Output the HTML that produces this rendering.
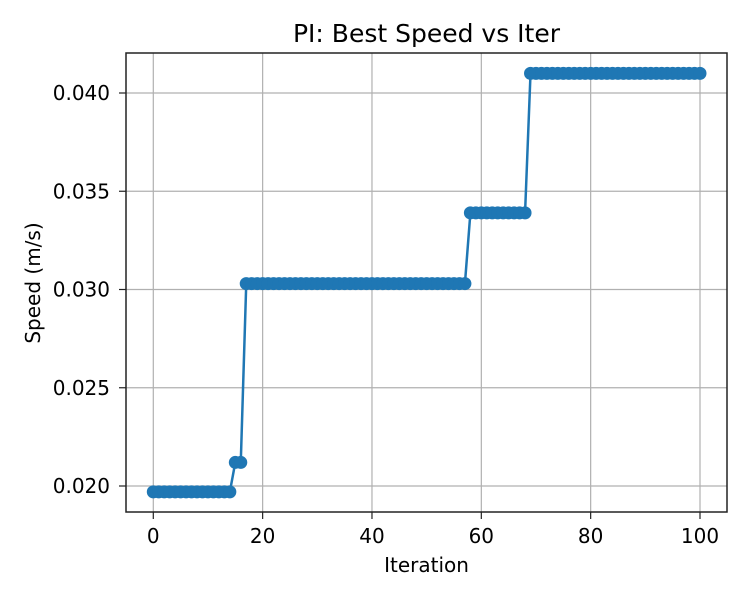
<!DOCTYPE html>
<html><head><meta charset="utf-8">
<style>
html,body{margin:0;padding:0;background:#fff;}
svg{display:block;font-family:"DejaVu Sans","Liberation Sans",sans-serif;}
</style></head>
<body>
<svg id="chart" width="750" height="600" viewBox="0 0 750 600">
  <text x="426.5" y="42" font-size="25" text-anchor="middle" fill="#000">PI: Best Speed vs Iter</text>
  <g id="grid"></g>
  <g id="series"></g>
  <rect x="126" y="53" width="601" height="459" fill="none" stroke="#222" stroke-width="1.5"/>
  <g id="xticks"></g>
  <g id="yticks"></g>
  <text x="426.5" y="572" font-size="20" text-anchor="middle">Iteration</text>
  <text x="0" y="0" font-size="20" text-anchor="middle" transform="translate(40,283) rotate(-90)">Speed (m/s)</text>
</svg>
<script>
const xTicks = [0, 20, 40, 60, 80, 100];
const yTicks = [0.020, 0.025, 0.030, 0.035, 0.040];
const yTickLabels = ["0.020", "0.025", "0.030", "0.035", "0.040"];
const speeds = [
0.0197,0.0197,0.0197,0.0197,0.0197,0.0197,0.0197,0.0197,0.0197,0.0197,
0.0197,0.0197,0.0197,0.0197,0.0197,0.0212,0.0212,0.0303,0.0303,0.0303,
0.0303,0.0303,0.0303,0.0303,0.0303,0.0303,0.0303,0.0303,0.0303,0.0303,
0.0303,0.0303,0.0303,0.0303,0.0303,0.0303,0.0303,0.0303,0.0303,0.0303,
0.0303,0.0303,0.0303,0.0303,0.0303,0.0303,0.0303,0.0303,0.0303,0.0303,
0.0303,0.0303,0.0303,0.0303,0.0303,0.0303,0.0303,0.0303,0.0339,0.0339,
0.0339,0.0339,0.0339,0.0339,0.0339,0.0339,0.0339,0.0339,0.0339,0.0410,
0.0410,0.0410,0.0410,0.0410,0.0410,0.0410,0.0410,0.0410,0.0410,0.0410,
0.0410,0.0410,0.0410,0.0410,0.0410,0.0410,0.0410,0.0410,0.0410,0.0410,
0.0410,0.0410,0.0410,0.0410,0.0410,0.0410,0.0410,0.0410,0.0410,0.0410,
0.0410];

const NS = "http://www.w3.org/2000/svg";
const X0 = 126, X1 = 727, Y0 = 53, Y1 = 512;
function xScale(v){ return 153.3 + (v - 0) * (700 - 153.3) / 100; }
function yScale(v){ return 486 + (v - 0.020) * (93 - 486) / 0.020; }
function mk(tag, attrs, parent){
  const e = document.createElementNS(NS, tag);
  for (const k in attrs) e.setAttribute(k, attrs[k]);
  parent.appendChild(e);
  return e;
}
const grid = document.getElementById('grid');
const xt = document.getElementById('xticks');
const yt = document.getElementById('yticks');
xTicks.forEach(v => {
  const x = xScale(v);
  const g = mk('line', {x1:x, x2:x, y1:Y0, y2:Y1, stroke:'#b0b0b0', 'stroke-width':1.2}, grid);
  
  
  const t = mk('line', {x1:x, x2:x, y1:Y1, y2:Y1+7, stroke:'#222', 'stroke-width':1.2}, xt);
  
  
  const l = mk('text', {x:x, y:Y1+31, 'font-size':20, 'text-anchor':'middle'}, xt);
  l.textContent = String(v);
  
  
});
yTicks.forEach((v, i) => {
  const y = yScale(v);
  const g = mk('line', {x1:X0, x2:X1, y1:y, y2:y, stroke:'#b0b0b0', 'stroke-width':1.2}, grid);
  
  
  const t = mk('line', {x1:X0-7, x2:X0, y1:y, y2:y, stroke:'#222', 'stroke-width':1.2}, yt);
  
  
  const l = mk('text', {x:X0-16, y:y+7, 'font-size':20, 'text-anchor':'end'}, yt);
  l.textContent = yTickLabels[i];
  
  
});
const series = document.getElementById('series');
const pts = speeds.map((s, i) => xScale(i).toFixed(2) + ',' + yScale(s).toFixed(2)).join(' ');
const line = mk('polyline', {points:pts, fill:'none', stroke:'#1f77b4', 'stroke-width':2.5}, series);


speeds.forEach((s, i) => {
  const c = mk('circle', {cx:xScale(i), cy:yScale(s), r:6.5, fill:'#1f77b4'}, series);
  
  
});
</script>
</body></html>
